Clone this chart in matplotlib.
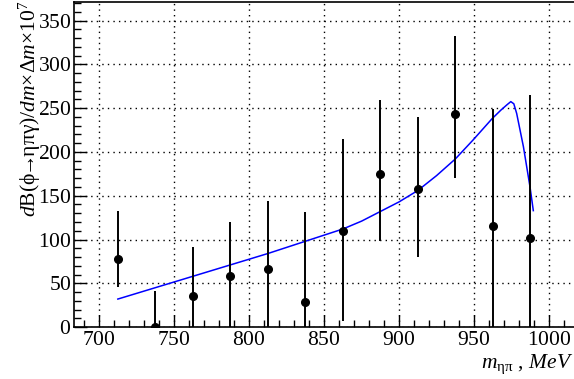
import numpy as np
import matplotlib
matplotlib.use("Agg")
import matplotlib.pyplot as plt
from matplotlib.ticker import MultipleLocator, FuncFormatter

plt.rcParams['font.family'] = ['Liberation Serif', 'DejaVu Serif']
plt.rcParams['mathtext.fontset'] = 'custom'
plt.rcParams['mathtext.rm'] = 'Liberation Serif'
plt.rcParams['mathtext.it'] = 'Liberation Serif:italic'

# measured points
mass = [712.5, 737.5, 762.5, 787.5, 812.5, 837.5, 862.5, 887.5, 912.5, 937.5, 962.5, 987.5]
rate = [78, 0, 35, 58, 66, 29, 110, 175, 158, 243, 116, 102]
err_lo = [32, 0, 35, 58, 66, 29, 103, 77, 78, 73, 116, 102]
err_hi = [55, 41, 57, 62, 78, 102, 105, 84, 82, 89, 133, 163]

# fitted curve
fit_m = [712.5, 737.5, 762.5, 787.5, 812.5, 825.0, 837.5, 850.0, 862.5, 875.0, 887.5,
         900.0, 912.5, 925.0, 937.5, 949.5, 962.0, 968.0, 972.0, 974.5, 976.5,
         978.4, 982.9, 987.3, 989.5]
fit_v = [32, 45, 58, 71, 84, 91, 98, 105, 112, 121, 132,
         143, 156, 173, 192, 214, 238, 248, 254, 257.5, 255,
         244, 206, 160, 133]

fig = plt.figure(figsize=(5.74, 3.79), dpi=100)
ax = fig.add_axes([0.129, 0.137, 0.8746, 0.858])

ax.plot(fit_m, fit_v, color='#0000ff', lw=1.1, zorder=3)
ax.errorbar(mass, rate, yerr=[err_lo, err_hi], fmt='o', color='black',
            ms=5.5, elinewidth=1.4, capsize=0, zorder=4)

ax.set_xlim(683.3, 1018.0)
ax.set_ylim(0, 371.4)
ital = FuncFormatter(lambda v, p: r'$\mathit{%d}$' % round(v))
ax.xaxis.set_major_locator(MultipleLocator(50))
ax.xaxis.set_minor_locator(MultipleLocator(10))
ax.yaxis.set_major_locator(MultipleLocator(50))
ax.yaxis.set_minor_locator(MultipleLocator(10))
ax.xaxis.set_major_formatter(ital)
ax.yaxis.set_major_formatter(ital)
ax.tick_params(which='major', direction='in', length=9, width=1, labelsize=15.5)
ax.tick_params(which='minor', direction='in', length=5, width=1)
ax.tick_params(axis='x', pad=3)
ax.tick_params(axis='y', pad=2)
ax.grid(True, which='major', color='black', linestyle=(0, (1, 3)), lw=1)
for s in ax.spines.values():
    s.set_linewidth(1.2)
ax.spines['right'].set_visible(False)

fig.text(0.052, 0.998,
         r'$d\mathrm{B(\phi}\!\!{\rightarrow}\!\!\mathrm{\eta\pi\gamma)}/dm\mathrm{\times\Delta}m\mathrm{\times}10^{7}$',
         rotation=90, ha='center', va='top', fontsize=15.5)
fig.text(0.998, 0.029, r'$m_{\mathrm{\eta\pi}}$ , $\mathit{MeV}$', ha='right', va='baseline', fontsize=15.5)

fig.savefig('out.png', dpi=100)
